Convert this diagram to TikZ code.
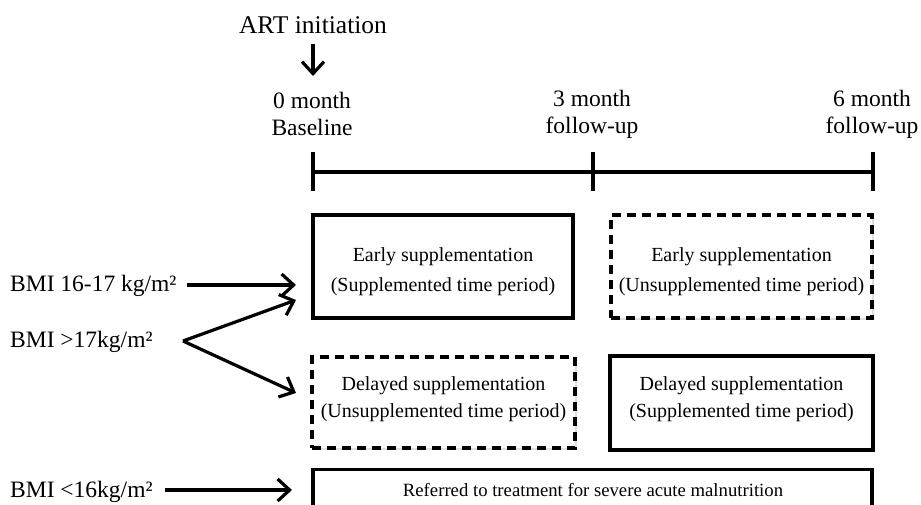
\documentclass[tikz,border=0pt]{standalone}
\usepackage{fontspec}
\setmainfont{Liberation Serif}
\usetikzlibrary{arrows.meta,shadows}
\begin{document}
\begin{tikzpicture}[x=1pt,y=-1pt,
  lbl/.style={font=\fontsize{23.5}{27}\selectfont, align=center, inner sep=0pt},
  boxtxt/.style={font=\fontsize{20}{30}\selectfont, align=center, inner sep=0pt},
  boxtxtb/.style={font=\fontsize{20}{27}\selectfont, align=center, inner sep=0pt},
  solidbox/.style={draw, line width=3.2pt, fill=white,
     drop shadow={opacity=0.25, shadow xshift=1.5pt, shadow yshift=-1.5pt}},
  dashbox/.style={solidbox, dash pattern=on 9pt off 6pt},
  arr/.style={line width=3.2pt, -{Straight Barb[length=12pt,width=22pt,line width=3.2pt]}},
  tl/.style={line width=4.5pt}
]
\useasboundingbox (0,0) rectangle (921,504);

% top
\node[font=\fontsize{25.5}{27}\selectfont, inner sep=0pt] (art) at (313,25) {ART initiation};
\coordinate (artend) at (313,76);
\draw[arr] (313,44) -- (artend);

\node[lbl] (t0) at (312,114) {0 month\\Baseline};
\node[lbl] (t3) at (592,114) {3 month\\follow-up};
\node[lbl] (t6) at (872,114) {6 month\\follow-up};

% timeline
\coordinate (a) at (313,172);
\coordinate (b) at (593,172);
\coordinate (c) at (873,172);
\draw[tl] (a) -- (c);
\draw[tl] (313,152) -- (313,191);
\draw[tl] (593,152) -- (593,191);
\draw[tl] (873,152) -- (873,191);

% boxes
\node[solidbox, minimum width=260pt, minimum height=103pt] (box1) at (443,266.5) {};
\node[boxtxt] (box1t) at (443,272) {Early supplementation\\(Supplemented time period)};
\node[dashbox, minimum width=261pt, minimum height=103pt] (box2) at (741.5,266.5) {};
\node[boxtxt] (box2t) at (741.5,272) {Early supplementation\\(Unsupplemented time period)};
\node[dashbox, minimum width=263pt, minimum height=91pt] (box3) at (443.5,402.5) {};
\node[boxtxtb] (box3t) at (443.5,399) {Delayed supplementation\\(Unsupplemented time period)};
\node[solidbox, minimum width=263pt, minimum height=94pt] (box4) at (741.5,403) {};
\node[boxtxtb] (box4t) at (741.5,399) {Delayed supplementation\\(Supplemented time period)};
\node[solidbox, anchor=north, minimum width=559pt, minimum height=80pt] (box5) at (592.5,468) {};
\node[font=\fontsize{18.7}{20}\selectfont, inner sep=0pt] (box5text) at (593,490)
  {Referred to treatment for severe acute malnutrition};

% BMI labels
\node[lbl, anchor=west] (bmi1) at (10,286) {BMI 16-17 kg/m²};
\node[lbl, anchor=west] (bmi2) at (10,342) {BMI >17kg/m²};
\node[lbl, anchor=west] (bmi3) at (10,492) {BMI <16kg/m²};

\coordinate (fork) at (183,341);
\coordinate (tip1) at (296,285);
\coordinate (tip2) at (296,300);
\coordinate (tip3) at (296,393);
\coordinate (tip4) at (292,490);
\coordinate (s1) at (187,285);
\coordinate (s4) at (165,490);

\draw[arr] (s1) -- (tip1);
\draw[arr] (fork) -- (tip2);
\draw[arr] (fork) -- (tip3);
\draw[arr] (s4) -- (tip4);
\end{tikzpicture}
\end{document}
